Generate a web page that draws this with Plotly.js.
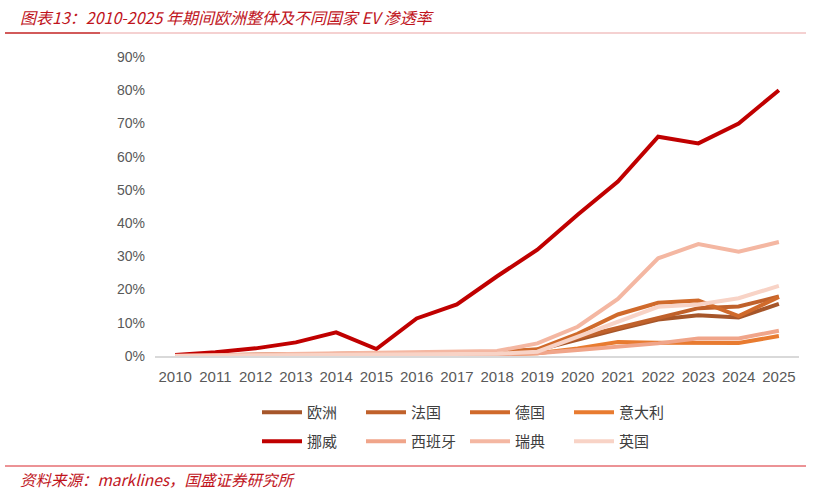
<!DOCTYPE html>
<html><head><meta charset="utf-8">
<script src="https://cdn.plot.ly/plotly-3.0.1.min.js"></script>
<style>html,body{margin:0;padding:0;background:#fff;}#chart{width:814px;height:494px;}</style>
</head><body><div id="chart"></div>
<script>
const years = ['2010','2011','2012','2013','2014','2015','2016','2017','2018','2019','2020','2021','2022','2023','2024','2025'];
const europe  = [0.1,0.2,0.3,0.4,0.5,0.6,0.7,0.9,1.1,1.8,5.0,8.0,11.0,12.3,11.6,15.7];
const france  = [0.1,0.2,0.3,0.5,0.6,0.7,0.8,1.0,1.2,1.8,5.5,8.5,11.5,14.4,14.9,17.9];
const germany = [0.1,0.1,0.2,0.3,0.5,0.6,0.8,1.0,1.2,2.0,6.7,12.5,16.0,16.7,12.0,17.8];
const italy   = [0.0,0.0,0.0,0.0,0.1,0.1,0.2,0.3,0.5,0.8,2.3,4.2,4.0,3.9,3.9,6.0];
const norway  = [0.3,1.1,2.3,4.1,7.1,2.1,11.3,15.5,24.0,32.0,42.5,52.5,66.0,64.0,70.0,80.0];
const spain   = [0.0,0.0,0.0,0.0,0.1,0.1,0.2,0.3,0.5,0.8,1.8,2.8,3.8,5.3,5.3,7.6];
const sweden  = [0.1,0.3,0.4,0.6,0.8,1.0,1.2,1.3,1.5,3.8,8.8,17.2,29.4,33.7,31.4,34.3];
const uk      = [0.0,0.1,0.1,0.2,0.3,0.4,0.5,0.6,0.7,1.3,5.8,10.5,14.8,15.5,17.4,21.1];
const names = ['欧洲','法国','德国','意大利','挪威','西班牙','瑞典','英国'];
const seriesList = [europe,france,germany,italy,norway,spain,sweden,uk];
const colors = ['#a6562a','#c0612b','#d06a2b','#e87b30','#c00000','#f0a58a','#f4b7a2','#f8d3c6'];

const traces = seriesList.map((s,i)=>({
  type:'scatter', mode:'lines', x:years, y:s, name:names[i],
  line:{color:colors[i], width:4},
  legend: i<4 ? 'legend' : 'legend2',
  hoverinfo:'skip'
}));

const legendBase = {
  orientation:'h', xref:'container', yref:'container',
  xanchor:'left', yanchor:'top',
  entrywidth:49, entrywidthmode:'pixels', itemwidth:40,
  font:{family:'Noto Sans CJK SC', size:15, color:'#404040'},
  bgcolor:'rgba(0,0,0,0)', traceorder:'normal'
};

const layout = {
  width:814, height:494,
  margin:{l:155, r:15, t:57, b:138},
  paper_bgcolor:'#fff', plot_bgcolor:'#fff',
  showlegend:true,
  legend: Object.assign({}, legendBase, {x:257/814, y:1-396/494}),
  legend2: Object.assign({}, legendBase, {x:257/814, y:1-425/494}),
  xaxis:{type:'category', range:[-0.5,15.5], showgrid:false, zeroline:false, showline:true,
    linecolor:'#d9d9d9', linewidth:1.5, ticks:'', fixedrange:true, ticklabelstandoff:6,
    tickfont:{family:'Liberation Sans, Arial', size:15, color:'#595959'}},
  yaxis:{range:[0,90], dtick:10, ticksuffix:'%', showgrid:false, zeroline:false,
    showline:false, ticks:'', fixedrange:true, ticklabelstandoff:9,
    tickfont:{family:'Liberation Sans, Arial', size:14, color:'#595959'}},
  shapes:[
    {type:'line', xref:'paper', yref:'paper', x0:(5-155)/644, x1:(806-155)/644,
      y0:1+(57-33)/299, y1:1+(57-33)/299, line:{color:'#eaa3a3', width:1}},
    {type:'line', xref:'paper', yref:'paper', x0:(5-155)/644, x1:(100-155)/644,
      y0:1+(57-33)/299, y1:1+(57-33)/299, line:{color:'#d25a5a', width:2}},
    {type:'line', xref:'paper', yref:'paper', x0:(5-155)/644, x1:(806-155)/644,
      y0:-(466-356)/299, y1:-(466-356)/299, line:{color:'#d9262c', width:1}}
  ],
  annotations:[
    {xref:'paper', yref:'paper', x:(18-155)/644, y:1+(57-17)/299, xanchor:'left', yanchor:'middle',
      showarrow:false, text:'<i>图表13：2010-2025 年期间欧洲整体及不同国家 EV 渗透率</i>',
      font:{family:'Noto Sans CJK SC', size:16, color:'#c0141c'}},
    {xref:'paper', yref:'paper', x:(18-155)/644, y:-(479-356)/299, xanchor:'left', yanchor:'middle',
      showarrow:false, text:'<i>资料来源：marklines，国盛证券研究所</i>',
      font:{family:'Noto Sans CJK SC', size:15.5, color:'#c0141c'}}
  ]
};
Plotly.newPlot('chart', traces, layout, {displayModeBar:false, staticPlot:true});
</script></body></html>
